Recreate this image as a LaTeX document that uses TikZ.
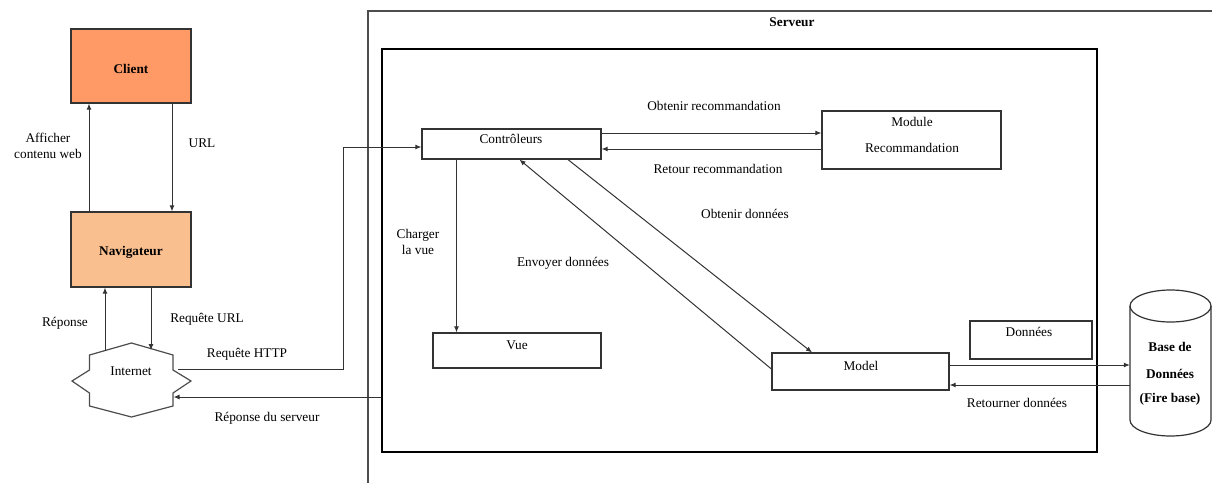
\documentclass[tikz,border=0pt]{standalone}
\usepackage{fontspec}
\setmainfont{Liberation Serif}
\usetikzlibrary{arrows.meta,calc}
\definecolor{clientfill}{HTML}{FF9966}
\definecolor{navfill}{HTML}{FABF8F}
\definecolor{edge}{HTML}{333333}
\definecolor{frame}{HTML}{4D4D4D}
\begin{document}
\begin{tikzpicture}[x=1pt,y=-1pt,
  font=\fontsize{13.3}{16}\selectfont,
  box/.style={draw=edge,line width=1.2pt,inner sep=0pt,rectangle},
  link/.style={draw=edge,line width=1pt},
  arr/.style={link,-{Latex[length=6pt,width=5pt]}},
  lbl/.style={inner sep=0pt,align=center},
  bold/.style={lbl,font=\fontsize{13.3}{16}\selectfont\bfseries}]
\useasboundingbox (0,0) rectangle (1212,483);

% --- client side ---
\node[box,fill=clientfill,minimum width=120pt,minimum height=74pt] (client) at (131,66) {};
\node[bold] at (131,69) {Client};
\node[box,fill=navfill,minimum width=120pt,minimum height=75pt] (nav) at (131,249.5) {};
\node[bold] at (131,252) {Navigateur};

% Internet: eight-pointed star
\node[minimum width=119pt,minimum height=74pt,inner sep=0pt] (net) at (131.5,380) {};
\draw[draw=frame,line width=1.2pt,fill=white]
  (131.5,343) -- (173,355) -- (173,370) -- (191,381) -- (173,393) -- (173,406)
  -- (131.5,417) -- (89.5,406) -- (89.5,393) -- (72,381) -- (89.5,370) -- (89.5,355) -- cycle;
\node[lbl] at (131,371) {Internet};
\coordinate (netUp) at (105,351);
\coordinate (netIn) at (151,350);
\coordinate (netOut) at (178,369);
\coordinate (netBack) at (173.5,397);

\draw[arr] ([xshift=-42pt]nav.north) -- ([xshift=-42pt]client.south);
\draw[arr] ([xshift=41pt]client.south) -- ([xshift=41pt]nav.north);
\node[lbl] at (48,146) {Afficher\\contenu web};
\node[lbl] at (202,143) {URL};

\draw[arr] (netUp) -- (netUp |- nav.south);
\draw[arr] (nav.south -| netIn) -- (netIn);
\node[lbl] at (65,323) {Réponse};
\node[lbl] at (207,319) {Requête URL};

% --- server frame ---
\draw[draw=frame,line width=1.2pt] (368,483) -- (368,11) -- (1212,11);
\node[bold] at (792,22) {Serveur};
\node[draw=black,line width=1.2pt,inner sep=0pt,minimum width=715pt,minimum height=403pt] (srvin) at (739.5,250.5) {};

% --- server components ---
\node[box,minimum width=179pt,minimum height=30pt] (ctrl) at (511.5,144) {};
\node[lbl] at (511,139) {Contrôleurs};
\node[box,minimum width=179pt,minimum height=58pt] (module) at (911.5,140) {};
\node[lbl] at (912,122) {Module};
\node[lbl] at (912,148) {Recommandation};
\node[box,minimum width=168pt,minimum height=35pt] (vue) at (517,350.5) {};
\node[lbl] at (517,345) {Vue};
\node[box,minimum width=177pt,minimum height=37pt] (model) at (860.5,371.5) {};
\node[lbl] at (861,366) {Model};
\node[box,minimum width=122pt,minimum height=38pt] (donnees) at (1031,340) {};
\node[lbl] at (1029,332) {Données};

% database cylinder
\node[minimum width=81pt,minimum height=146pt,inner sep=0pt] (db) at (1170.5,363) {};
\draw[draw=edge,line width=1.2pt,fill=white]
  (1130,306) -- (1130,420) arc[start angle=180,end angle=360,x radius=40.5,y radius=-16]
  -- (1211,306);
\draw[draw=edge,line width=1.2pt] (1170.5,306) ellipse[x radius=40.5,y radius=16];
\node[bold] at (1170,347) {Base de};
\node[bold] at (1170,374) {Données};
\node[bold] at (1170,399) {(Fire base)};

% --- HTTP exchange ---
\draw[arr] (netOut) -- (343,369) |- ([yshift=-3pt]ctrl.west);
\node[lbl] at (247,354) {Requête HTTP};
\draw[arr] (srvin.west |- netBack) -- (netBack);
\node[lbl] at (267,418) {Réponse du serveur};

% --- controller links ---
\draw[arr] ([yshift=11pt]ctrl.east) -- ([yshift=11pt]ctrl.east -| module.west);
\node[lbl] at (714,106) {Obtenir recommandation};
\draw[arr] ([yshift=-9pt]module.west) -- ([yshift=-9pt]module.west -| ctrl.east);
\node[lbl] at (718,169) {Retour recommandation};

\draw[arr] ([xshift=-55pt]ctrl.south) -- ([xshift=-55pt]ctrl.south |- vue.north);
\node[lbl] at (418,242) {Charger\\la vue};

\draw[arr] ([xshift=56.5pt]ctrl.south) -- ([xshift=-48.5pt]model.north);
\node[lbl] at (745,214) {Obtenir données};
\draw[arr] ([yshift=2.5pt]model.west) -- ([xshift=8pt]ctrl.south);
\node[lbl] at (563,263) {Envoyer données};

% --- database links ---
\draw[arr] ([yshift=6.5pt]model.east) -- ([yshift=6.5pt]model.east -| db.west);
\draw[arr] ([yshift=-13.5pt]model.east -| db.west) -- ([yshift=-13.5pt]model.east);
\node[lbl] at (1017,403) {Retourner données};
\end{tikzpicture}
\end{document}
